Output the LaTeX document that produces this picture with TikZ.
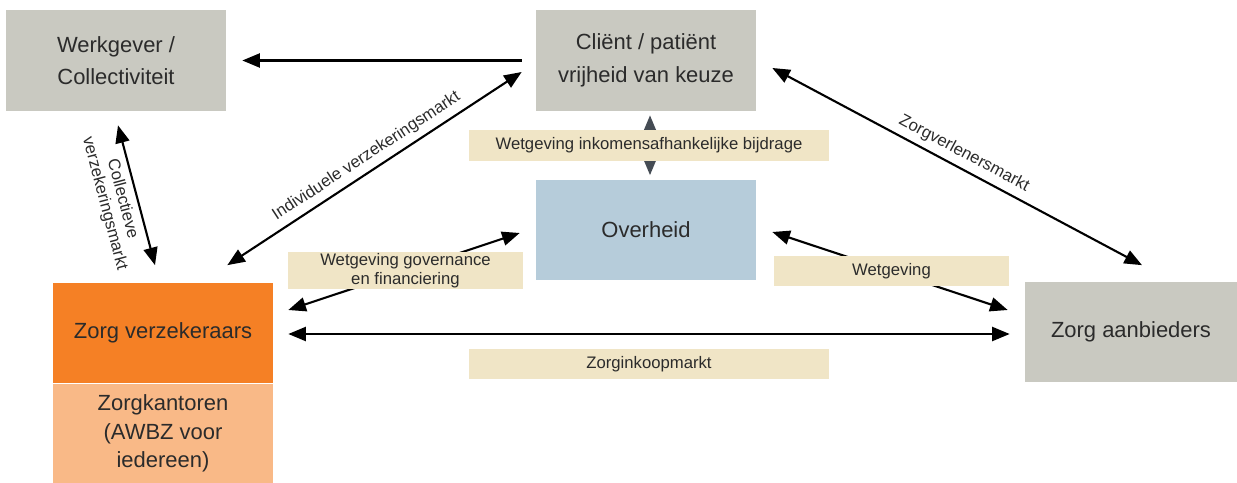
\documentclass[tikz,border=0pt]{standalone}
\usepackage{fontspec}
\setmainfont{Liberation Sans}
\usetikzlibrary{arrows.meta,calc}
\definecolor{boxgray}{HTML}{C9C9C1}
\definecolor{govblue}{HTML}{B6CCDA}
\definecolor{zorgorange}{HTML}{F58025}
\definecolor{lightorange}{HTML}{F9B987}
\definecolor{beige}{HTML}{F0E5C6}
\definecolor{darkarrow}{HTML}{454C54}
\definecolor{textgray}{HTML}{2B2B2B}

\begin{document}
\begin{tikzpicture}[x=0.02cm, y=-0.02cm,
  box/.style={text=textgray, align=center, inner sep=0pt, minimum width=4.4cm, minimum height=2.02cm, font=\fontsize{12.5}{18.5}\selectfont},
  tag/.style={fill=beige, text=textgray, align=center, inner sep=0pt, font=\fontsize{9.5}{10.5}\selectfont},
  link/.style={{Triangle[length=10pt,width=8pt]}-{Triangle[length=10pt,width=8pt]}, line width=1.2pt},
  lbl/.style={sloped, text=textgray, align=center, font=\fontsize{9.5}{10.5}\selectfont}]
\useasboundingbox (0,0) rectangle (1237,483);

% actors
\node[box, fill=boxgray] (werkgever) at (116,60.5) {Werkgever /\\Collectiviteit};
\node[box, fill=boxgray] (client) at (646,60.5) {Cliënt / patiënt\\vrijheid van keuze};
\node[box, fill=govblue] (overheid) at (646,230) {Overheid};
\node[box, fill=zorgorange] (verzekeraars) at (163,333) {Zorg verzekeraars};
\node[box, fill=lightorange, minimum height=1.98cm, font=\fontsize{12.5}{16.2}\selectfont] (kantoren) at (163,433.5) {Zorgkantoren\\(AWBZ voor\\iedereen)};
\node[box, fill=boxgray, minimum width=4.24cm] (aanbieders) at (1131,332) {Zorg aanbieders};

% markets
\draw[{Triangle[length=10pt,width=8pt]}-, line width=1.2pt] ($(werkgever.east)+(16,0)$) -- ($(client.west)+(-14,0)$);
\draw[link] ($(werkgever.south)+(2,14)$) -- node[lbl, below] {Collectieve\\verzekeringsmarkt} ($(verzekeraars.north)+(-8,-17)$);
\draw[link] ($(verzekeraars.north east)+(-46,-17)$) -- node[lbl, above] {Individuele verzekeringsmarkt} ($(client.west)+(-14,11.5)$);
\draw[link] ($(client.east)+(16,7.5)$) -- node[lbl, above] {Zorgverlenersmarkt} ($(aanbieders.north)+(11,-16)$);
\draw[link] ($(verzekeraars.east)+(15,1)$) -- ($(aanbieders.west)+(-15,2)$);

% legislation
\draw[link, darkarrow] ($(client.south)+(4,4)$) -- ($(overheid.north)+(4,-4)$);
\draw[link] ($(verzekeraars.east)+(15,-23)$) -- ($(overheid.west)+(-16,3)$);
\draw[link] ($(overheid.east)+(16,2)$) -- ($(aanbieders.west)+(-17,-22)$);

% labels
\node[tag, minimum width=7.2cm, minimum height=0.62cm] (inkomen) at (649,145.5) {Wetgeving inkomensafhankelijke bijdrage};
\node[tag, minimum width=4.7cm, minimum height=0.74cm] (governance) at (405.5,270.5) {Wetgeving governance\\en financiering};
\node[tag, minimum width=4.7cm, minimum height=0.6cm] (wetgeving) at (891.5,271) {Wetgeving};
\node[tag, minimum width=7.2cm, minimum height=0.6cm] (inkoop) at (649,364) {Zorginkoopmarkt};
\end{tikzpicture}
\end{document}
